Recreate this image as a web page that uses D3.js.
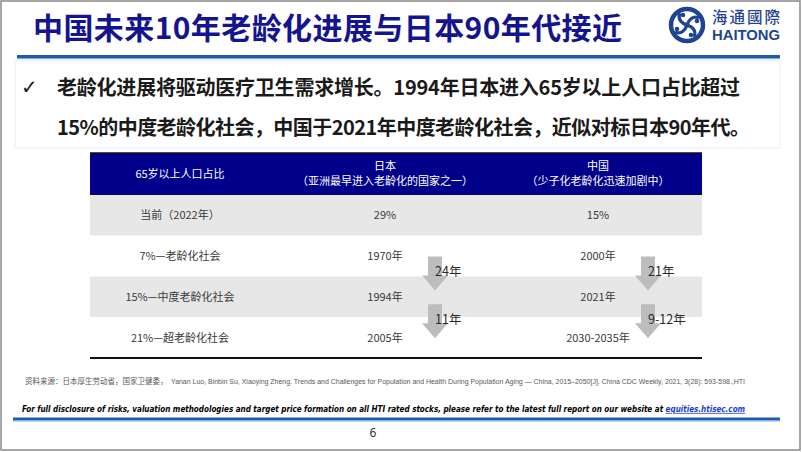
<!DOCTYPE html>
<html><head><meta charset="utf-8">
<script src="https://cdn.jsdelivr.net/npm/d3@7/dist/d3.min.js"></script>
<style>
html,body{margin:0;padding:0;background:#fff;}
svg{display:block;}
</style></head>
<body>
<svg id="c" width="802" height="452"></svg>
<script>
// ---- data ----
const titleText = "中国未来10年老龄化进展与日本90年代接近";
const bulletLines = ["老龄化进展将驱动医疗卫生需求增长。1994年日本进入65岁以上人口占比超过",
                     "15%的中度老龄化社会，中国于2021年中度老龄化社会，近似对标日本90年代。"];
const columnKeys = ["label","japan","china"];
const columnHeaders = [["65岁以上人口占比"],["日本","（亚洲最早进入老龄化的国家之一）"],["中国","（少子化老龄化迅速加剧中）"]];
const rowLabels = ["当前（2022年）","7%—老龄化社会","15%—中度老龄化社会","21%—超老龄化社会"];
const japanValues = ["29%","1970年","1994年","2005年"];
const chinaValues = ["15%","2000年","2021年","2030-2035年"];
const japanGaps = ["24年","11年"];
const chinaGaps = ["21年","9-12年"];
const sourceCn = "资料来源：日本厚生劳动省，国家卫健委，";
const sourceEn = "Yanan Luo, Binbin Su, Xiaoying Zheng. Trends and Challenges for Population and Health During Population Aging — China, 2015–2050[J]. China CDC Weekly, 2021, 3(28): 593-598.,HTI";
const disclaimer = "For full disclosure of risks, valuation methodologies and target price formation on all HTI rated stocks, please refer to the latest full report on our website at ";
const linkText = "equities.htisec.com";
const pageNum = "6";

// ---- drawing ----
const svg = d3.select("#c");
const CJK = "'Noto Sans CJK SC','Noto Sans',sans-serif";
const navy = "#14148e";

// slide border
svg.append("rect").attr("x",1).attr("y",1).attr("width",799).attr("height",449)
  .attr("fill","#fff").attr("stroke","#8a8a8a").attr("stroke-width",1.5);

// title
svg.append("text").attr("x",33).attr("y",28.5).attr("dy","0.36em")
  .attr("font-family",CJK).attr("font-weight",700).attr("font-size",30)
  .attr("fill",navy).attr("textLength",589).attr("lengthAdjust","spacing").text(titleText);

// title underline
svg.append("rect").attr("x",17).attr("y",55).attr("width",763).attr("height",3).attr("fill","#1c5caa");
svg.append("rect").attr("x",17).attr("y",58).attr("width",763).attr("height",1.2).attr("fill","#86b0dc");

// logo
const logo = svg.append("g").attr("transform","translate(687,25)");
logo.append("circle").attr("r",16).attr("fill","none").attr("stroke","#1f4590").attr("stroke-width",4.5);
[0,90,180,270].forEach(a=>{
  const g = logo.append("g").attr("transform",`rotate(${a})`);
  g.append("path").attr("d","M0,0 C2,-6 6,-9 10.5,-7.5").attr("fill","none")
    .attr("stroke","#1f4590").attr("stroke-width",3.2).attr("stroke-linecap","round");
  g.append("circle").attr("cx",10).attr("cy",-4).attr("r",2.3).attr("fill","#1f4590");
});
logo.append("circle").attr("r",2.6).attr("fill","#1f4590");
svg.append("text").attr("x",712).attr("y",17).attr("dy","0.36em")
  .attr("font-family",CJK).attr("font-weight",500).attr("font-size",15.5)
  .attr("fill","#1f4590").attr("textLength",68).attr("lengthAdjust","spacing").text("海通國際");
svg.append("text").attr("x",712).attr("y",35).attr("dy","0.36em")
  .attr("font-family","'Liberation Sans',Arial,sans-serif").attr("font-weight",700).attr("font-size",14)
  .attr("fill","#1f4590").attr("textLength",68).attr("lengthAdjust","spacingAndGlyphs").text("HAITONG");

// bullet box (faint)
svg.append("rect").attr("x",15).attr("y",61).attr("width",765).attr("height",87)
  .attr("fill","none").attr("stroke","#e3f1f8").attr("stroke-width",1);
svg.append("text").attr("x",21).attr("y",87).attr("dy","0.36em")
  .attr("font-family","'DejaVu Sans',sans-serif").attr("font-size",20).attr("fill","#222").text("✓");
const bulletY = [87.5,127.5], bulletEnd=[740,750];
bulletLines.forEach((t,i)=>{
  svg.append("text").attr("x",57).attr("y",bulletY[i]).attr("dy","0.36em")
    .attr("font-family",CJK).attr("font-weight",700).attr("font-size",20)
    .attr("fill","#1a1a1a").attr("textLength",bulletEnd[i]-57).attr("lengthAdjust","spacing").text(t);
});

// table
const tableX0 = 90, tableX1 = 702, headY0 = 153, headY1 = 195, tableY1 = 358;
const x = d3.scaleOrdinal().domain(columnKeys).range([180,385,598]);
const y = d3.scaleBand().domain(rowLabels).range([headY1, tableY1]);

svg.append("rect").attr("x",tableX0).attr("y",headY0).attr("width",tableX1-tableX0).attr("height",headY1-headY0)
  .attr("fill","#00008a");
svg.append("line").attr("x1",tableX0).attr("x2",tableX1).attr("y1",headY0).attr("y2",headY0)
  .attr("stroke","#111").attr("stroke-width",1.5);
svg.append("line").attr("x1",tableX0).attr("x2",tableX1).attr("y1",headY1).attr("y2",headY1)
  .attr("stroke","#111").attr("stroke-width",1);

columnHeaders.forEach((lines,i)=>{
  const cx = x(columnKeys[i]);
  const ys = lines.length===1 ? [174] : [166,181.5];
  lines.forEach((t,j)=>{
    svg.append("text").attr("x",cx).attr("y",ys[j]).attr("dy","0.36em").attr("text-anchor","middle")
      .attr("font-family",CJK).attr("font-size",11).attr("fill","#fff").text(t);
  });
});

// row bands
svg.selectAll("rect.band").data(rowLabels).join("rect").attr("class","band")
  .attr("x",tableX0).attr("width",tableX1-tableX0)
  .attr("y",d=>y(d)).attr("height",y.bandwidth())
  .attr("fill",(d,i)=>i%2===0?"#e7e7e7":"#ffffff");

svg.append("line").attr("x1",tableX0).attr("x2",tableX1).attr("y1",tableY1).attr("y2",tableY1)
  .attr("stroke","#111").attr("stroke-width",1.8);

const cellText = (vals,key)=>{
  svg.selectAll(null).data(vals).join("text")
    .attr("x",x(key)).attr("y",(d,i)=>y(rowLabels[i])+y.bandwidth()/2).attr("dy","0.36em")
    .attr("text-anchor","middle").attr("font-family",CJK).attr("font-size",11)
    .attr("fill","#3a3a3a").text(d=>d);
};
cellText(rowLabels,"label");
cellText(japanValues,"japan");
cellText(chinaValues,"china");

// arrows
const arrow = (cx, top, len) => {
  const sw=7, hw=13, hl=15;
  return `M${cx-sw},${top} L${cx+sw},${top} L${cx+sw},${top+len-hl} L${cx+hw},${top+len-hl} L${cx},${top+len} L${cx-hw},${top+len-hl} L${cx-sw},${top+len-hl} Z`;
};
const drawGaps = (gaps,key)=>{
  gaps.forEach((g,i)=>{
    const ax = x(key)+50;
    const boundary = y(rowLabels[i+2]);
    const top = boundary - 20 + 7*i;
    svg.append("path").attr("d",arrow(ax, top, 34)).attr("fill","#bdbdbd");
    svg.append("text").attr("x",ax).attr("y",top+15).attr("dy","0.36em")
      .attr("font-family",CJK).attr("font-size",12.5).attr("fill","#2a2a2a").text(g);
  });
};
drawGaps(japanGaps,"japan");
drawGaps(chinaGaps,"china");

// source
svg.append("text").attr("x",25).attr("y",381).attr("dy","0.36em")
  .attr("font-family",CJK).attr("font-size",7.5).attr("fill","#595959").text(sourceCn);
svg.append("text").attr("x",171).attr("y",381).attr("dy","0.36em")
  .attr("font-family","'Liberation Sans',sans-serif").attr("font-size",7).attr("fill","#595959")
  .attr("textLength",574).attr("lengthAdjust","spacingAndGlyphs").text(sourceEn);

// disclaimer: size the font so its natural width fits 22..748
const disc = svg.append("text").attr("x",22).attr("y",409).attr("dy","0.36em")
  .attr("font-family","'Liberation Sans Narrow','DejaVu Sans Condensed','Noto Sans',sans-serif")
  .attr("font-weight",700).attr("font-style","italic")
  .attr("font-size",10.5).attr("fill","#000");
disc.append("tspan").text(disclaimer);
disc.append("tspan").attr("fill","#1f3fc8").attr("text-decoration","underline").text(linkText);
const natural = disc.node().getComputedTextLength();
disc.attr("font-size", Math.min(11.5, 10.5*724/natural));

// bottom line
svg.append("rect").attr("x",13).attr("y",417.5).attr("width",767).attr("height",3).attr("fill","#1c5caa");
svg.append("rect").attr("x",13).attr("y",420.5).attr("width",767).attr("height",1).attr("fill","#86b0dc");

svg.append("text").attr("x",373).attr("y",433).attr("dy","0.36em").attr("text-anchor","middle")
  .attr("font-family","'Noto Sans',sans-serif").attr("font-size",12).attr("fill","#333").text(pageNum);
</script>
</body></html>
